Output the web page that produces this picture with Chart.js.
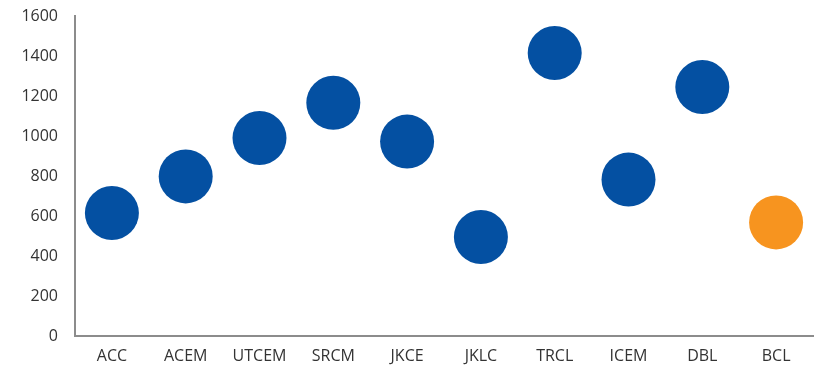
<!DOCTYPE html>
<html>
<head>
<meta charset="utf-8">
<script src="https://cdn.jsdelivr.net/npm/chart.js@4/dist/chart.umd.min.js"></script>
<style>
  html, body { margin: 0; padding: 0; background: #ffffff; }
  #wrap { width: 829px; height: 373px; position: relative; }
</style>
</head>
<body>
<div id="wrap"><canvas id="chart"></canvas></div>
<script>
// Companies along the category axis
const companies = ['ACC', 'ACEM', 'UTCEM', 'SRCM', 'JKCE', 'JKLC', 'TRCL', 'ICEM', 'DBL', 'BCL'];
// Value for each company
const values = [615, 798, 990, 1166, 972, 495, 1415, 782, 1245, 568];
// Value-axis ticks
const yTicks = [0, 200, 400, 600, 800, 1000, 1200, 1400, 1600];

const peerBlue = '#0450A2';
const highlightOrange = '#F7941F';
const pointColors = companies.map(c => c === 'BCL' ? highlightOrange : peerBlue);

const font = { family: "'Open Sans', 'Lato', sans-serif", size: 16 };

new Chart(document.getElementById('chart'), {
  type: 'line',
  data: {
    labels: companies,
    datasets: [{
      data: values,
      showLine: false,
      pointRadius: 27,
      pointHoverRadius: 27,
      pointBorderWidth: 0,
      pointBackgroundColor: pointColors,
      pointBorderColor: pointColors,
      clip: false
    }]
  },
  options: {
    responsive: true,
    maintainAspectRatio: false,
    animation: false,
    layout: { autoPadding: false, padding: { top: 16, right: 16, left: 0, bottom: 0 } },
    plugins: { legend: { display: false }, tooltip: { enabled: false } },
    scales: {
      x: {
        offset: true,
        grid: { display: false, drawTicks: false },
        border: { display: true, color: '#8c8c8c', width: 2 },
        ticks: { color: '#333333', font: font, padding: 11, maxRotation: 0 },
        afterFit: s => { s.height = 37; s.paddingLeft = 0; s.paddingRight = 0; }
      },
      y: {
        min: 0,
        max: 1600,
        afterBuildTicks: s => { s.ticks = yTicks.map(v => ({ value: v })); },
        grid: { display: false, drawTicks: false },
        border: { display: true, color: '#8c8c8c', width: 2 },
        ticks: { color: '#333333', font: font, padding: 17, callback: v => String(v) },
        afterFit: s => { s.width = 75; s.paddingTop = 0; s.paddingBottom = 0; }
      }
    }
  }
});
</script>
</body>
</html>
